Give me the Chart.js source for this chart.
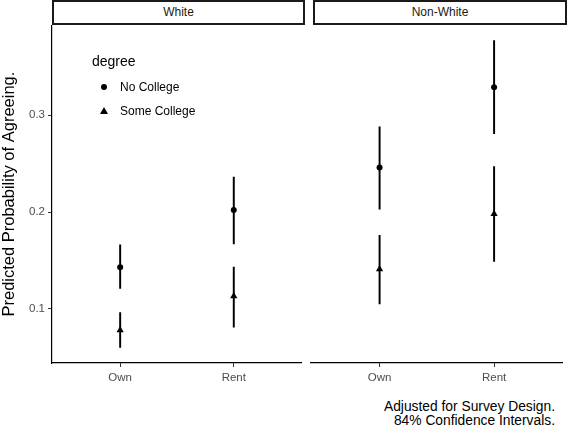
<!DOCTYPE html>
<html>
<head>
<meta charset="utf-8">
<script src="https://cdn.jsdelivr.net/npm/chart.js@4.4.1/dist/chart.umd.min.js"></script>
<style>
  body { margin: 0; background: #fff; font-family: "Liberation Sans", Arial, sans-serif; }
  #wrap { position: relative; width: 567px; height: 428px; overflow: hidden; }
  .strip { position: absolute; top: 0; height: 25px; box-sizing: border-box; border: 2px solid #1a1a1a;
           background: #fff; font-size: 12px; color: #1a1a1a; text-align: center; line-height: 21px; }
  .box { position: absolute; }
  #legend { position: absolute; left: 92px; top: 53px; color: #000; }
  #legend .title { font-size: 14px; margin-bottom: 6px; }
  #legend .item { font-size: 12px; height: 24px; line-height: 24px; position: relative; padding-left: 28px; }
  #legend .sym { position: absolute; left: 12px; top: 12px; }
  .circle { width: 6px; height: 6px; border-radius: 50%; background: #000; margin: -3px 0 0 -3px; }
  .tri { width: 0; height: 0; border-left: 4px solid transparent; border-right: 4px solid transparent;
         border-bottom: 7px solid #000; margin: -4px 0 0 -4px; }
  #caption { position: absolute; right: 12px; top: 400px; font-size: 13.8px; line-height: 14px;
             text-align: right; color: #000; }
</style>
</head>
<body>
<div id="wrap">
  <div class="box" style="left:0; top:21px; width:567px; height:373px;"><canvas id="chart"></canvas></div>
  <div class="strip" id="strip0" style="left:52px; width:253px;"></div>
  <div class="strip" id="strip1" style="left:313px; width:254px;"></div>
  <div id="legend"></div>
  <div id="caption">Adjusted for Survey Design.<br>84% Confidence Intervals.</div>
</div>
<script>
const panels = ["White", "Non-White"];
const categories = ["Own", "Rent"];
const seriesNames = ["No College", "Some College"];
const yTicks = [0.1, 0.2, 0.3];

// White panel
const noCollegeWhite = [0.143, 0.202];
const noCollegeWhiteLo = [0.121, 0.167];
const noCollegeWhiteHi = [0.166, 0.236];
const someCollegeWhite = [0.078, 0.113];
const someCollegeWhiteLo = [0.060, 0.081];
const someCollegeWhiteHi = [0.096, 0.143];

// Non-White panel
const noCollegeNonWhite = [0.246, 0.329];
const noCollegeNonWhiteLo = [0.203, 0.281];
const noCollegeNonWhiteHi = [0.288, 0.377];
const someCollegeNonWhite = [0.141, 0.198];
const someCollegeNonWhiteLo = [0.105, 0.149];
const someCollegeNonWhiteHi = [0.176, 0.247];

const panelData = [
    [
        { mid: noCollegeWhite, lo: noCollegeWhiteLo, hi: noCollegeWhiteHi },
        { mid: someCollegeWhite, lo: someCollegeWhiteLo, hi: someCollegeWhiteHi },
    ],
    [
        { mid: noCollegeNonWhite, lo: noCollegeNonWhiteLo, hi: noCollegeNonWhiteHi },
        { mid: someCollegeNonWhite, lo: someCollegeNonWhiteLo, hi: someCollegeNonWhiteHi },
    ],
];

const panelAxes = ["x", "x2"];
const pointStyles = ["circle", "triangle"];
const pointRadii = [3, 4.2];

document.getElementById("strip0").textContent = panels[0];
document.getElementById("strip1").textContent = panels[1];

// legend
var legend = document.getElementById("legend");
var lt = document.createElement("div");
lt.className = "title";
lt.textContent = "degree";
legend.appendChild(lt);
seriesNames.forEach(function (name, i) {
    var item = document.createElement("div");
    item.className = "item";
    var sym = document.createElement("div");
    sym.className = "sym " + (i === 0 ? "circle" : "tri");
    item.appendChild(sym);
    item.appendChild(document.createTextNode(name));
    legend.appendChild(item);
});

Chart.defaults.font.family = '"Liberation Sans", Arial, sans-serif';
Chart.defaults.animation = false;

var datasets = [];
panelData.forEach(function (series, p) {
    series.forEach(function (s, i) {
        datasets.push({
            type: "scatter",
            label: panels[p] + " " + seriesNames[i],
            xAxisID: panelAxes[p],
            yAxisID: "y",
            data: s.mid.map(function (v, k) { return { x: k, y: v }; }),
            pointStyle: pointStyles[i],
            pointRadius: pointRadii[i],
            backgroundColor: "#000",
            borderColor: "#000",
            borderWidth: 0,
        });
        datasets.push({
            type: "bar",
            label: panels[p] + " " + seriesNames[i] + " CI",
            xAxisID: panelAxes[p],
            yAxisID: "y",
            data: s.lo.map(function (v, k) { return { x: k, y: [v, s.hi[k]] }; }),
            backgroundColor: "#000",
            barThickness: 1.3,
            grouped: false,
        });
    });
});

function panelAxis(weight) {
    return {
        type: "linear",
        position: "bottom",
        stack: "panels",
        stackWeight: weight,
        min: -0.6,
        max: 1.6,
        offset: false,
        afterBuildTicks: function (scale) {
            scale.ticks = categories.map(function (c, k) { return { value: k }; });
        },
        afterFit: function (scale) {
            scale.height = 31;
            scale.paddingLeft = 0;
            scale.paddingRight = 0;
        },
        ticks: {
            callback: function (value) { return categories[value]; },
            color: "#4d4d4d",
            font: { size: 11.5 },
            padding: 4,
            maxRotation: 0,
        },
        grid: { offset: false, drawOnChartArea: false, tickLength: 4, color: "#333" },
        border: { color: "#000", width: 1.2 },
    };
}

new Chart(document.getElementById("chart"), {
    type: "scatter",
    data: { datasets: datasets },
    options: {
        responsive: true,
        maintainAspectRatio: false,
        layout: { padding: 0 },
        plugins: { legend: { display: false }, tooltip: { enabled: false } },
        scales: {
            x: panelAxis(252),
            xgap: {
                type: "linear",
                position: "bottom",
                stack: "panels",
                stackWeight: 9,
                afterBuildTicks: function (scale) { scale.ticks = []; },
                afterFit: function (scale) {
                    scale.height = 31;
                    scale.paddingLeft = 0;
                    scale.paddingRight = 0;
                },
                ticks: { display: false },
                grid: { display: false },
                border: { display: false },
            },
            x2: panelAxis(254),
            y: {
                position: "left",
                min: 0.044,
                max: 0.393,
                afterBuildTicks: function (scale) {
                    scale.ticks = yTicks.map(function (v) { return { value: v }; });
                },
                afterFit: function (scale) {
                    scale.width = 52;
                    scale.paddingTop = 0;
                    scale.paddingBottom = 0;
                },
                ticks: {
                    callback: function (value) { return value.toFixed(1); },
                    color: "#4d4d4d",
                    font: { size: 11.5 },
                    padding: 3,
                },
                grid: { drawOnChartArea: false, tickLength: 4, color: "#333" },
                border: { color: "#000", width: 1.2 },
                title: {
                    display: true,
                    text: "Predicted Probability of Agreeing.",
                    color: "#000",
                    font: { size: 16.5 },
                    padding: 0,
                },
            },
        },
    },
});
</script>
</body>
</html>
